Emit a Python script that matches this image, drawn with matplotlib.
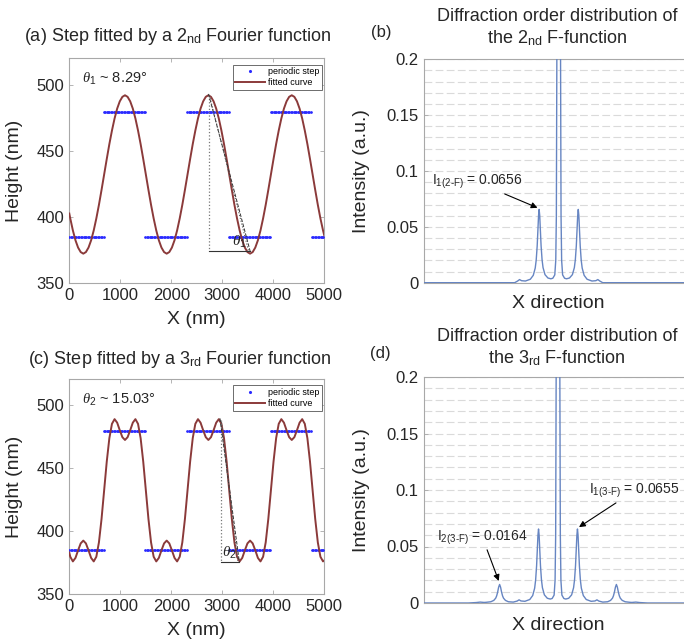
import matplotlib
matplotlib.use('Agg')
import matplotlib.pyplot as plt
import numpy as np

plt.rcParams['font.family'] = ['Liberation Sans', 'DejaVu Sans']
plt.rcParams['mathtext.fontset'] = 'custom'
plt.rcParams['mathtext.rm'] = 'Liberation Sans'
plt.rcParams['mathtext.it'] = 'Liberation Serif:italic'
plt.rcParams['mathtext.bf'] = 'Liberation Sans:bold'

# ---------------- step profile (nm) ----------------
step_edges = [0, 675, 1490, 2310, 3130, 3950, 4760, 5000]
step_levels = [385, 479, 385, 479, 385, 479, 385]

# fitted curves (x in nm, height in nm)
fit_x = [0, 19.0, 70.1, 121.2, 172.3, 223.4, 274.5, 325.6, 376.7, 427.8, 478.9,
         530.0, 581.1, 632.2, 683.3, 734.3, 785.4, 836.5, 887.6, 938.7, 989.8,
         1040.9, 1092.0, 1143.1, 1194.2, 1245.3, 1296.4, 1347.5, 1398.6, 1449.7,
         1500.8, 1551.8, 1602.9, 1654.0, 1705.1, 1756.2, 1807.3, 1858.4, 1909.5,
         1960.6, 2011.7, 2062.8, 2113.9, 2165.0, 2216.1, 2267.2, 2318.3, 2369.3,
         2420.4, 2471.5, 2522.6, 2573.7, 2624.8, 2675.9, 2727.0, 2778.1, 2829.2,
         2880.3, 2931.4, 2982.5, 3033.6, 3084.7, 3135.8, 3186.8, 3237.9, 3289.0,
         3340.1, 3391.2, 3442.3, 3493.4, 3544.5, 3595.6, 3646.7, 3697.8, 3748.9,
         3800.0, 3851.1, 3902.2, 3953.3, 4004.3, 4055.4, 4106.5, 4157.6, 4208.7,
         4259.8, 4310.9, 4362.0, 4413.1, 4464.2, 4515.3, 4566.4, 4617.5, 4668.6,
         4719.7, 4770.8, 4821.8, 4872.9, 4924.0, 4975.1, 5000]

fit2_y = [402.4,
          398.7, 389.6, 382.1, 376.6, 373.2, 372.0,
          373.2, 376.6, 382.1, 389.6, 398.7, 409.0, 420.3, 432.0, 443.7, 455.0, 465.3, 474.4, 481.9, 487.4, 490.8,
          492.0, 490.8, 487.4, 481.9, 474.4, 465.3, 455.0, 443.7, 432.0, 420.3, 409.0, 398.7, 389.6, 382.1, 376.6, 373.2, 372.0,
          373.2, 376.6, 382.1, 389.6, 398.7, 409.0, 420.3, 432.0, 443.7, 455.0, 465.3, 474.4, 481.9, 487.4, 490.8,
          492.0, 490.8, 487.4, 481.9, 474.4, 465.3, 455.0, 443.7, 432.0, 420.3, 409.0, 398.7, 389.6, 382.1, 376.6, 373.2, 372.0,
          373.2, 376.6, 382.1, 389.6, 398.7, 409.0, 420.3, 432.0, 443.7, 455.0, 465.3, 474.4, 481.9, 487.4, 490.8,
          492.0, 490.8, 487.4, 481.9, 474.4, 465.3, 455.0, 443.7, 432.0, 420.3, 409.0, 398.7, 389.6,
          385.7]

fit3_y = [382.6,
          379.3, 375.6, 378.4, 384.4, 389.9, 392.1,
          389.9, 384.4, 378.4, 375.6, 379.3, 390.7, 409.3, 432.0, 454.7, 473.3, 484.7, 488.4, 485.6, 479.6, 474.1,
          471.9, 474.1, 479.6, 485.6, 488.4, 484.7, 473.3, 454.7, 432.0, 409.3, 390.7, 379.3, 375.6, 378.4, 384.4, 389.9, 392.1,
          389.9, 384.4, 378.4, 375.6, 379.3, 390.7, 409.3, 432.0, 454.7, 473.3, 484.7, 488.4, 485.6, 479.6, 474.1,
          471.9, 474.1, 479.6, 485.6, 488.4, 484.7, 473.3, 454.7, 432.0, 409.3, 390.7, 379.3, 375.6, 378.4, 384.4, 389.9, 392.1,
          389.9, 384.4, 378.4, 375.6, 379.3, 390.7, 409.3, 432.0, 454.7, 473.3, 484.7, 488.4, 485.6, 479.6, 474.1,
          471.9, 474.1, 479.6, 485.6, 488.4, 484.7, 473.3, 454.7, 432.0, 409.3, 390.7, 379.3, 375.6,
          376.4]

# slope triangles (peak top -> next trough), nm
slope_a = [(2745, 492), (3545, 374)]
slope_c = [(2969, 488), (3335, 375)]

# ---------------- diffraction spectra (order units, a.u.) ----------------
spec2_x = [-6.9, -2.25, -2.1, -2.0, -1.9, -1.7, -1.45, -1.3, -1.2, -1.15, -1.1, -1.06, -1.03, -1.0,
           -0.97, -0.94, -0.9, -0.85, -0.8, -0.7, -0.55, -0.4, -0.3, -0.2, -0.15, -0.12, -0.095, -0.05,
           0.0,
           0.05, 0.095, 0.12, 0.15, 0.2, 0.3, 0.4, 0.55, 0.7, 0.8, 0.85, 0.9, 0.94, 0.97,
           1.0, 1.03, 1.06, 1.1, 1.15, 1.2, 1.3, 1.45, 1.7, 1.9, 2.0, 2.1, 2.25, 6.9]
spec2_y = [0, 0, 0.0015, 0.0028, 0.0018, 0.0015, 0.0031, 0.0066, 0.0131, 0.0202, 0.0328, 0.0482, 0.0601, 0.0656,
           0.0601, 0.0482, 0.0330, 0.0205, 0.0135, 0.0072, 0.0042, 0.0035, 0.0040, 0.0070, 0.020, 0.060, 0.20, 0.60,
           1.0,
           0.60, 0.20, 0.060, 0.020, 0.0070, 0.0040, 0.0035, 0.0042, 0.0072, 0.0135, 0.0205, 0.0330, 0.0482, 0.0601,
           0.0656, 0.0601, 0.0482, 0.0328, 0.0202, 0.0131, 0.0066, 0.0031, 0.0015, 0.0018, 0.0028, 0.0015, 0, 0]

spec3_x = [-6.9, -4.6, -4.2, -4.0, -3.8, -3.7, -3.45, -3.3, -3.2, -3.15, -3.1, -3.05, -3.0,
           -2.95, -2.9, -2.85, -2.8, -2.7, -2.55, -2.3, -2.1, -2.0, -1.9, -1.7,
           -1.45, -1.3, -1.2, -1.15, -1.1, -1.06, -1.03, -1.0,
           -0.97, -0.94, -0.9, -0.85, -0.8, -0.7, -0.55, -0.4, -0.3, -0.2, -0.15, -0.12, -0.095, -0.05,
           0.0,
           0.05, 0.095, 0.12, 0.15, 0.2, 0.3, 0.4, 0.55, 0.7, 0.8, 0.85, 0.9, 0.94, 0.97,
           1.0, 1.03, 1.06, 1.1, 1.15, 1.2, 1.3, 1.45,
           1.7, 1.9, 2.0, 2.1, 2.3, 2.55, 2.7, 2.8, 2.85, 2.9, 2.95,
           3.0, 3.05, 3.1, 3.15, 3.2, 3.3, 3.45, 3.7, 3.8, 4.0, 4.2, 4.6, 6.9]
spec3_y = [0, 0, 0.0004, 0.0008, 0.0005, 0.0006, 0.0011, 0.0023, 0.0043, 0.0064, 0.0097, 0.0140, 0.0164,
           0.0140, 0.0097, 0.0064, 0.0043, 0.0023, 0.0011, 0.0008, 0.0017, 0.0028, 0.0018, 0.0015,
           0.0031, 0.0066, 0.0131, 0.0202, 0.0328, 0.0482, 0.0600, 0.0655,
           0.0600, 0.0482, 0.0330, 0.0205, 0.0135, 0.0072, 0.0042, 0.0035, 0.0040, 0.0070, 0.020, 0.060, 0.20, 0.60,
           1.0,
           0.60, 0.20, 0.060, 0.020, 0.0070, 0.0040, 0.0035, 0.0042, 0.0072, 0.0135, 0.0205, 0.0330, 0.0482, 0.0600,
           0.0655, 0.0600, 0.0482, 0.0328, 0.0202, 0.0131, 0.0066, 0.0031,
           0.0015, 0.0018, 0.0028, 0.0017, 0.0008, 0.0011, 0.0023, 0.0043, 0.0064, 0.0097, 0.0140,
           0.0164, 0.0140, 0.0097, 0.0064, 0.0043, 0.0023, 0.0011, 0.0006, 0.0005, 0.0008, 0.0004, 0, 0]

I1_2F = 0.0656
I1_3F = 0.0655
I2_3F = 0.0164

# ---------------- styling ----------------
RED = '#8b3a3a'
BLUE = '#6685c2'
SPINE = '#a8a8a8'
TXT = '#262626'

W, H = 684, 644
fig = plt.figure(figsize=(W / 100, H / 100), dpi=100)


def px_axes(left, top, right, bottom):
    return fig.add_axes([left / W, 1 - bottom / H, (right - left) / W, (bottom - top) / H])


def style_box(ax):
    for s in ax.spines.values():
        s.set_color(SPINE)
        s.set_linewidth(0.8)
    ax.tick_params(direction='in', length=3, color=SPINE, labelcolor=TXT, labelsize=12, width=0.6)


def step_panel(ax, fit_y, slope, theta_txt, theta_sub):
    # periodic step as dots
    xs, ys = [], []
    for i, lev in enumerate(step_levels):
        seg = np.arange(step_edges[i], step_edges[i + 1], 28.0)
        xs.extend(seg)
        ys.extend([lev] * len(seg))
    ax.plot(xs, ys, '.', color='#2a2aff', ms=1.9, label='periodic step', zorder=3)
    ax.plot(fit_x, fit_y, '-', color=RED, lw=1.4, label='fitted curve', zorder=4)

    (x0, y0), (x1, y1) = slope
    ax.plot([x0, x0], [y0, y1], ls=':', color='#777777', lw=0.9, zorder=5)
    ax.plot([x0, x1], [y1, y1], '-', color='#333333', lw=0.8, zorder=5)
    ax.plot([x0 - 15, x1], [y0 + 1, y1], ls='--', color='#333333', lw=0.7, zorder=5)
    ax.plot([x0 + 15, x1 - 30], [y0 - 2, y1], ls=':', color='#555555', lw=0.8, zorder=5)
    ax.text(x1 - 350, y1 + 4, theta_sub, fontsize=11, color=TXT, zorder=6)

    ax.text(250, 504, theta_txt, fontsize=10.5, color=TXT, va='center', ha='left')

    ax.set_xlim(0, 5000)
    ax.set_ylim(350, 520)
    ax.set_xticks([0, 1000, 2000, 3000, 4000, 5000])
    ax.set_yticks([350, 400, 450, 500])
    style_box(ax)
    ax.tick_params(top=True, right=True)
    ax.set_ylabel('Height (nm)', fontsize=14, color=TXT)
    ax.set_xlabel('X (nm)', fontsize=14, color=TXT)
    ax.yaxis.set_label_coords(-0.18, 0.5)
    leg = ax.legend(loc='upper right', bbox_to_anchor=(0.991, 0.972), borderaxespad=0,
                    fontsize=6.5, handlelength=3.3, fancybox=False, framealpha=1,
                    edgecolor='#555555', borderpad=0.3, labelspacing=0.2, handletextpad=0.3,
                    numpoints=1, markerscale=1.3)
    leg.get_frame().set_linewidth(0.6)


def spec_panel(ax, sx, sy):
    ax.plot(sx, sy, '-', color=BLUE, lw=1.0, zorder=3)
    ax.set_xlim(-6.9, 6.9)
    ax.set_ylim(0, 0.2)
    ax.set_yticks([0, 0.05, 0.1, 0.15, 0.2])
    ax.set_yticklabels(['0', '0.05', '0.1', '0.15', '0.2'])
    ax.set_yticks(np.arange(0.01, 0.2, 0.01), minor=True)
    ax.set_xticks([])
    ax.grid(True, which='both', axis='y', color='#dadada', lw=0.8, ls=(0, (7, 3)))
    ax.set_axisbelow(True)
    style_box(ax)
    ax.tick_params(which='minor', length=0)
    ax.set_ylabel('Intensity (a.u.)', fontsize=14, color=TXT)
    ax.yaxis.set_label_coords(-0.2, 0.5)
    ax.set_xlabel('X direction', fontsize=14, color=TXT)


ax_a = px_axes(69.3, 58.3, 324.3, 282.7)
ax_b = px_axes(423.7, 59.3, 693.7, 282.7)
ax_c = px_axes(69.3, 379.3, 324.3, 593.7)
ax_d = px_axes(423.7, 377, 692.3, 603)

step_panel(ax_a, fit2_y, slope_a, r'$\theta_1$ ~ 8.29°', r'$\theta_1$')
step_panel(ax_c, fit3_y, slope_c, r'$\theta_2$ ~ 15.03°', r'$\theta_2$')
ax_a.xaxis.set_label_coords(0.5, -0.125)
ax_c.xaxis.set_label_coords(0.5, -0.13)

spec_panel(ax_b, spec2_x, spec2_y)
spec_panel(ax_d, spec3_x, spec3_y)
ax_b.xaxis.set_label_coords(0.5, -0.055)
ax_d.xaxis.set_label_coords(0.5, -0.062)

arrow = dict(arrowstyle='-|>', color='black', lw=0.8, mutation_scale=9, shrinkA=0, shrinkB=1)
ax_b.annotate(r'I$_{\text{1(2-F)}}$ = %.4f' % I1_2F, xy=(-1.02, I1_2F + 0.001), xytext=(-6.5, 0.09),
              fontsize=10, color=TXT, va='center', ha='left', arrowprops=arrow)
ax_d.annotate(r'I$_{\text{1(3-F)}}$ = %.4f' % I1_3F, xy=(1.02, I1_3F + 0.001), xytext=(1.58, 0.099),
              fontsize=10, color=TXT, va='center', ha='left', arrowprops=arrow,
              annotation_clip=False)
ax_d.annotate(r'I$_{\text{2(3-F)}}$ = %.4f' % I2_3F, xy=(-3.02, I2_3F + 0.002), xytext=(-6.2, 0.0575),
              fontsize=10, color=TXT, va='center', ha='left', arrowprops=arrow)

# panel titles
fig.text(178 / W, 1 - 41 / H, r'(a) Step fitted by a 2$_{\text{nd}}$ Fourier function',
         ha='center', va='baseline', fontsize=13, color=TXT)
fig.text(180 / W, 1 - 363.7 / H, r'(c) Step fitted by a 3$_{\text{rd}}$ Fourier function',
         ha='center', va='baseline', fontsize=13, color=TXT)
fig.text(557 / W, 1 - 20.7 / H, 'Diffraction order distribution of',
         ha='center', va='baseline', fontsize=13, color=TXT)
fig.text(557 / W, 1 - 43.3 / H, r'the 2$_{\text{nd}}$ F-function',
         ha='center', va='baseline', fontsize=13, color=TXT)
fig.text(557 / W, 1 - 341 / H, 'Diffraction order distribution of',
         ha='center', va='baseline', fontsize=13, color=TXT)
fig.text(557 / W, 1 - 363.7 / H, r'the 3$_{\text{rd}}$ F-function',
         ha='center', va='baseline', fontsize=13, color=TXT)
fig.text(381 / W, 1 - 37 / H, '(b)', ha='center', va='baseline', fontsize=12, color=TXT)
fig.text(380 / W, 1 - 358 / H, '(d)', ha='center', va='baseline', fontsize=12, color=TXT)

fig.savefig('out.png', dpi=100)
